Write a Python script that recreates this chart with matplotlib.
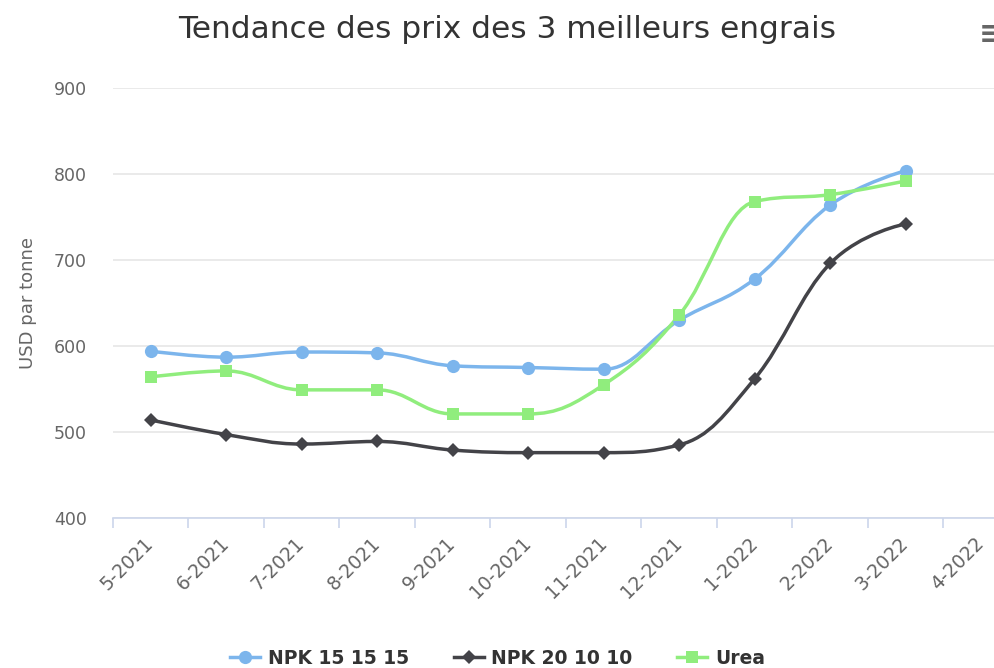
import numpy as np
import matplotlib
matplotlib.use("Agg")
import matplotlib.pyplot as plt
from matplotlib.path import Path
from matplotlib.patches import PathPatch
from matplotlib.lines import Line2D

months = ["5-2021", "6-2021", "7-2021", "8-2021", "9-2021", "10-2021",
          "11-2021", "12-2021", "1-2022", "2-2022", "3-2022", "4-2022"]
npk_151515 = [594, 587, 593, 592, 577, 575, 573, 630, 678, 764, 804]
npk_201010 = [514, 497, 486, 489, 479, 476, 476, 485, 562, 696, 742]
urea = [564, 571, 549, 549, 521, 521, 555, 636, 768, 776, 792]


def spline_path(xs, ys, smoothing=1.5):
    # same control points as a highcharts "spline" series
    n = len(xs)
    left = [(xs[i], ys[i]) for i in range(n)]
    right = [(xs[i], ys[i]) for i in range(n)]
    d = smoothing + 1
    for i in range(1, n - 1):
        x, y = xs[i], ys[i]
        lx, ly = xs[i - 1], ys[i - 1]
        nx, ny = xs[i + 1], ys[i + 1]
        lcx = (smoothing * x + lx) / d
        lcy = (smoothing * y + ly) / d
        rcx = (smoothing * x + nx) / d
        rcy = (smoothing * y + ny) / d
        corr = (rcy - lcy) * (rcx - x) / (rcx - lcx) + y - rcy
        lcy += corr
        rcy += corr
        if lcy > ly and lcy > y:
            lcy = max(ly, y)
            rcy = 2 * y - lcy
        elif lcy < ly and lcy < y:
            lcy = min(ly, y)
            rcy = 2 * y - lcy
        if rcy > ny and rcy > y:
            rcy = max(ny, y)
            lcy = 2 * y - rcy
        elif rcy < ny and rcy < y:
            rcy = min(ny, y)
            lcy = 2 * y - rcy
        left[i] = (lcx, lcy)
        right[i] = (rcx, rcy)
    verts = [(xs[0], ys[0])]
    codes = [Path.MOVETO]
    for i in range(1, n):
        verts += [right[i - 1], left[i], (xs[i], ys[i])]
        codes += [Path.CURVE4] * 3
    return Path(verts, codes)


fig = plt.figure(figsize=(9.95, 6.68), dpi=100)
W, H = 995, 668
ax = fig.add_axes([113 / W, 1 - 518 / H, (1019 - 113) / W, (518 - 88) / H])

series = [
    ("NPK 15 15 15", npk_151515, "#7cb5ec", "o", 9.5),
    ("NPK 20 10 10", npk_201010, "#434348", "D", 7.5),
    ("Urea", urea, "#90ed7d", "s", 9),
]

handles = []
for name, vals, col, mk, ms in series:
    x = np.arange(len(vals))
    p = spline_path(list(x), list(vals))
    ax.add_patch(PathPatch(p, facecolor="none", edgecolor=col, lw=2.5,
                           zorder=3, capstyle="round", joinstyle="round"))
    ax.plot(x, vals, linestyle="none", marker=mk, ms=ms, color=col,
            markeredgewidth=0, zorder=4)
    handles.append(Line2D([], [], color=col, lw=2.5, marker=mk, ms=ms,
                          markeredgewidth=0, label=name))

ax.set_xlim(-0.5, len(months) - 0.5)
ax.set_ylim(400, 900)
ax.set_yticks([400, 500, 600, 700, 800, 900])
ax.grid(axis="y", color="#e6e6e6", lw=1.2, zorder=0)
ax.set_axisbelow(True)

ax.set_xticks(np.arange(len(months)))
ax.set_xticklabels(months, rotation=45, ha="right", va="center",
                   rotation_mode="anchor", color="#666666", fontsize=13.5)
ax.set_xticks(np.arange(len(months) + 1) - 0.5, minor=True)
ax.tick_params(axis="x", which="major", length=0, pad=16)
ax.tick_params(axis="x", which="minor", length=7, width=1.2, color="#ccd6eb")
ax.tick_params(axis="y", length=0, pad=19, labelcolor="#666666", labelsize=12.5)

for s in ["top", "right", "left"]:
    ax.spines[s].set_visible(False)
ax.spines["bottom"].set_color("#ccd6eb")
ax.spines["bottom"].set_linewidth(1.2)

ax.set_ylabel("USD par tonne", color="#666666", fontsize=13, labelpad=12)

fig.text(507 / W, 1 - 29 / H, "Tendance des prix des 3 meilleurs engrais",
         ha="center", va="center", fontsize=22.5, color="#333333")
fig.text(979 / W, 1 - 34 / H, "\u2261", ha="left", va="center",
         fontsize=22, color="#666666", fontweight="bold")

fig.legend(handles=handles, loc="center", bbox_to_anchor=(0.5, 1 - 658 / H),
           ncol=3, frameon=False, handlelength=1.6, handletextpad=0.4,
           columnspacing=2.4,
           prop={"weight": "bold", "size": 13.5}, labelcolor="#333333")

fig.savefig("out.png", dpi=100)
